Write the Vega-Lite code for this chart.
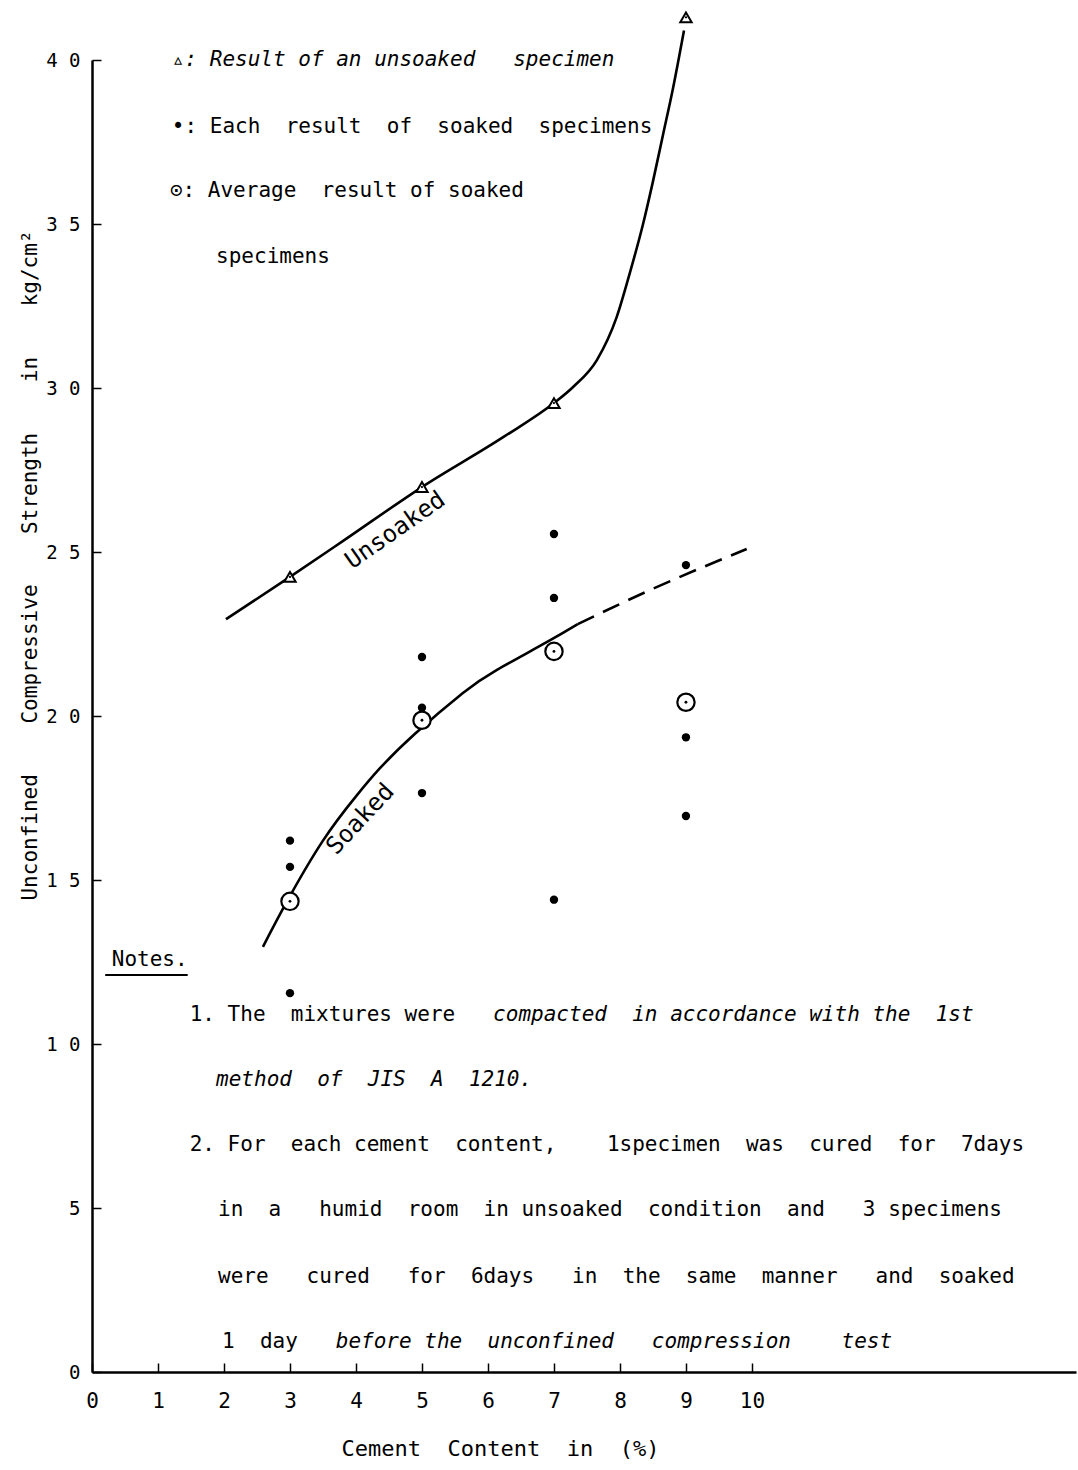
{
  "$schema": "https://vega.github.io/schema/vega-lite/v6.json",
  "autosize": {"type": "none"},
  "width": 984,
  "height": 1312,
  "padding": {"left": 92, "top": 60, "right": 2, "bottom": 98},
  "background": "white",
  "config": {"view": {"stroke": null}, "font": "DejaVu Sans Mono"},
  "datasets": {
    "unsoaked": [{"x": 3, "y": 24.24}, {"x": 5, "y": 26.98}, {"x": 7, "y": 29.54}, {"x": 9, "y": 41.3}],
    "soaked": [
      {"x": 3, "y": 16.2}, {"x": 3, "y": 15.4}, {"x": 3, "y": 11.55},
      {"x": 5, "y": 21.8}, {"x": 5, "y": 20.25}, {"x": 5, "y": 17.65},
      {"x": 7, "y": 25.55}, {"x": 7, "y": 23.6}, {"x": 7, "y": 14.4},
      {"x": 9, "y": 24.6}, {"x": 9, "y": 19.35}, {"x": 9, "y": 16.95}
    ],
    "average": [{"x": 3, "y": 14.35}, {"x": 5, "y": 19.87}, {"x": 7, "y": 21.97}, {"x": 9, "y": 20.42}],
    "unsoakedCurve": [
      {"x": 2.03, "y": 22.95}, {"x": 3, "y": 24.24}, {"x": 3.8, "y": 25.33}, {"x": 5, "y": 26.98},
      {"x": 6.23, "y": 28.5}, {"x": 7, "y": 29.54}, {"x": 7.29, "y": 30.03}, {"x": 7.65, "y": 30.85},
      {"x": 7.95, "y": 32.16}, {"x": 8.15, "y": 33.51}, {"x": 8.35, "y": 35.0}, {"x": 8.5, "y": 36.3},
      {"x": 8.65, "y": 37.7}, {"x": 8.8, "y": 39.1}, {"x": 8.97, "y": 40.9}
    ],
    "soakedCurve": [
      {"x": 2.59, "y": 12.96}, {"x": 2.95, "y": 14.33}, {"x": 3.5, "y": 16.2}, {"x": 4.0, "y": 17.55},
      {"x": 4.36, "y": 18.4}, {"x": 4.89, "y": 19.45}, {"x": 5.62, "y": 20.7}, {"x": 6.13, "y": 21.4},
      {"x": 6.89, "y": 22.25}, {"x": 7.36, "y": 22.8}
    ],
    "soakedDashed": [{"x": 7.36, "y": 22.8}, {"x": 8.5, "y": 23.88}, {"x": 9.92, "y": 25.09}],
    "legend": [
      {"x": 1.21, "y": 37.96, "label": "•: Each \u00a0result \u00a0of \u00a0soaked \u00a0specimens"},
      {"x": 1.18, "y": 36.0, "label": "⊙: Average \u00a0result of soaked"},
      {"x": 1.88, "y": 34.0, "label": "specimens"}
    ],
    "legendItalic": [
      {"x": 1.21, "y": 40.0, "label": "▵: Result of an unsoaked \u00a0 specimen"}
    ],
    "notes": [
      {"x": 0.3, "y": 12.56, "label": "Notes."},
      {"x": 1.48, "y": 10.88, "label": "1. The \u00a0mixtures were"},
      {"x": 1.48, "y": 6.92, "label": "2. For \u00a0each cement \u00a0content, \u00a0 \u00a01specimen \u00a0was \u00a0cured \u00a0for \u00a07days"},
      {"x": 1.91, "y": 4.94, "label": "in \u00a0a \u00a0 humid \u00a0room \u00a0in unsoaked \u00a0condition \u00a0and \u00a0 3 specimens"},
      {"x": 1.91, "y": 2.9, "label": "were \u00a0 cured \u00a0 for \u00a06days \u00a0 in \u00a0the \u00a0same \u00a0manner \u00a0 and \u00a0soaked"},
      {"x": 1.97, "y": 0.91, "label": "1 \u00a0day"}
    ],
    "notesItalic": [
      {"x": 6.078, "y": 10.88, "label": "compacted \u00a0in accordance with the \u00a01st"},
      {"x": 1.88, "y": 8.9, "label": "method \u00a0of \u00a0JIS \u00a0A \u00a01210."},
      {"x": 3.694, "y": 0.91, "label": "before the \u00a0unconfined \u00a0 compression \u00a0 \u00a0test"}
    ],
    "underline": [{"x": 0.2, "x2": 1.45, "y": 12.1}],
    "curveLabels": [
      {"x": 4.6, "y": 25.65, "label": "Unsoaked", "angle": 325},
      {"x": 4.07, "y": 16.85, "label": "Soaked", "angle": 313}
    ]
  },
  "encoding": {
    "x": {
      "field": "x", "type": "quantitative",
      "scale": {"domain": [0, 14.91], "nice": false, "zero": false},
      "axis": {
        "values": [0, 1, 2, 3, 4, 5, 6, 7, 8, 9, 10],
        "grid": false, "domainColor": "black", "domainWidth": 2.5,
        "tickColor": "black", "tickWidth": 1.5, "tickSize": -9,
        "labelFontSize": 21, "labelColor": "black", "labelFont": "DejaVu Sans Mono", "labelPadding": 27,
        "labelFlush": false,
        "title": "Cement \u00a0Content \u00a0in \u00a0(%)",
        "titleFontSize": 22, "titleFontWeight": "normal", "titleColor": "black", "titleFont": "DejaVu Sans Mono",
        "titleX": 408, "titleY": 76, "titleAlign": "center", "titleBaseline": "middle"
      }
    },
    "y": {
      "field": "y", "type": "quantitative",
      "scale": {"domain": [0, 40], "nice": false, "zero": false},
      "axis": {
        "values": [0, 5, 10, 15, 20, 25, 30, 35, 40],
        "grid": false, "domainColor": "black", "domainWidth": 2.5,
        "tickColor": "black", "tickWidth": 1.5, "tickSize": -9,
        "labelFontSize": 19, "labelColor": "black", "labelFont": "DejaVu Sans Mono", "labelPadding": 21,
        "labelFlush": false,
        "labelExpr": "length(datum.label) > 1 ? substring(datum.label, 0, 1) + ' ' + substring(datum.label, 1) : datum.label",
        "title": "Unconfined \u00a0 \u00a0Compressive \u00a0 \u00a0Strength \u00a0 \u00a0in \u00a0 \u00a0kg/cm²",
        "titleFontSize": 21, "titleFontWeight": "normal", "titleColor": "black", "titleFont": "DejaVu Sans Mono",
        "titleX": -62, "titleY": 505, "titleAngle": 270, "titleAlign": "center", "titleBaseline": "middle"
      }
    }
  },
  "layer": [
    {"data": {"name": "unsoakedCurve"}, "mark": {"type": "line", "interpolate": "monotone", "color": "black", "strokeWidth": 2.6, "clip": false}},
    {"data": {"name": "soakedCurve"}, "mark": {"type": "line", "interpolate": "natural", "color": "black", "strokeWidth": 2.6, "clip": false}},
    {"data": {"name": "soakedDashed"}, "mark": {"type": "line", "interpolate": "monotone", "color": "black", "strokeWidth": 2.6, "strokeDash": [18, 10], "clip": false}},
    {"data": {"name": "soaked"}, "mark": {"type": "point", "shape": "circle", "filled": true, "color": "black", "opacity": 1, "size": 70, "clip": false}},
    {"data": {"name": "average"}, "mark": {"type": "point", "shape": "circle", "filled": true, "fill": "white", "stroke": "black", "opacity": 1, "strokeWidth": 2.2, "size": 300, "clip": false}},
    {"data": {"name": "average"}, "mark": {"type": "point", "shape": "circle", "filled": true, "color": "black", "opacity": 1, "size": 8, "clip": false}},
    {"data": {"name": "unsoaked"}, "mark": {"type": "point", "shape": "triangle-up", "filled": true, "fill": "white", "stroke": "black", "opacity": 1, "strokeWidth": 2, "size": 130, "clip": false}},
    {"data": {"name": "unsoaked"}, "mark": {"type": "point", "shape": "circle", "filled": true, "color": "black", "opacity": 1, "size": 5, "clip": false}},
    {"data": {"name": "legend"}, "mark": {"type": "text", "align": "left", "baseline": "middle", "fontSize": 21, "font": "DejaVu Sans Mono", "color": "black", "clip": false}, "encoding": {"text": {"field": "label"}}},
    {"data": {"name": "legendItalic"}, "mark": {"type": "text", "align": "left", "baseline": "middle", "fontSize": 21, "font": "DejaVu Sans Mono", "fontStyle": "italic", "color": "black", "clip": false}, "encoding": {"text": {"field": "label"}}},
    {"data": {"name": "notes"}, "mark": {"type": "text", "align": "left", "baseline": "middle", "fontSize": 21, "font": "DejaVu Sans Mono", "color": "black", "clip": false}, "encoding": {"text": {"field": "label"}}},
    {"data": {"name": "notesItalic"}, "mark": {"type": "text", "align": "left", "baseline": "middle", "fontSize": 21, "font": "DejaVu Sans Mono", "fontStyle": "italic", "color": "black", "clip": false}, "encoding": {"text": {"field": "label"}}},
    {"data": {"name": "underline"}, "mark": {"type": "rule", "color": "black", "strokeWidth": 2}, "encoding": {"x2": {"field": "x2"}}},
    {"data": {"name": "curveLabels"}, "mark": {"type": "text", "align": "center", "baseline": "middle", "fontSize": 24, "font": "DejaVu Sans Mono", "color": "black"}, "encoding": {"text": {"field": "label"}, "angle": {"field": "angle", "type": "quantitative", "scale": null}}}
  ]
}
